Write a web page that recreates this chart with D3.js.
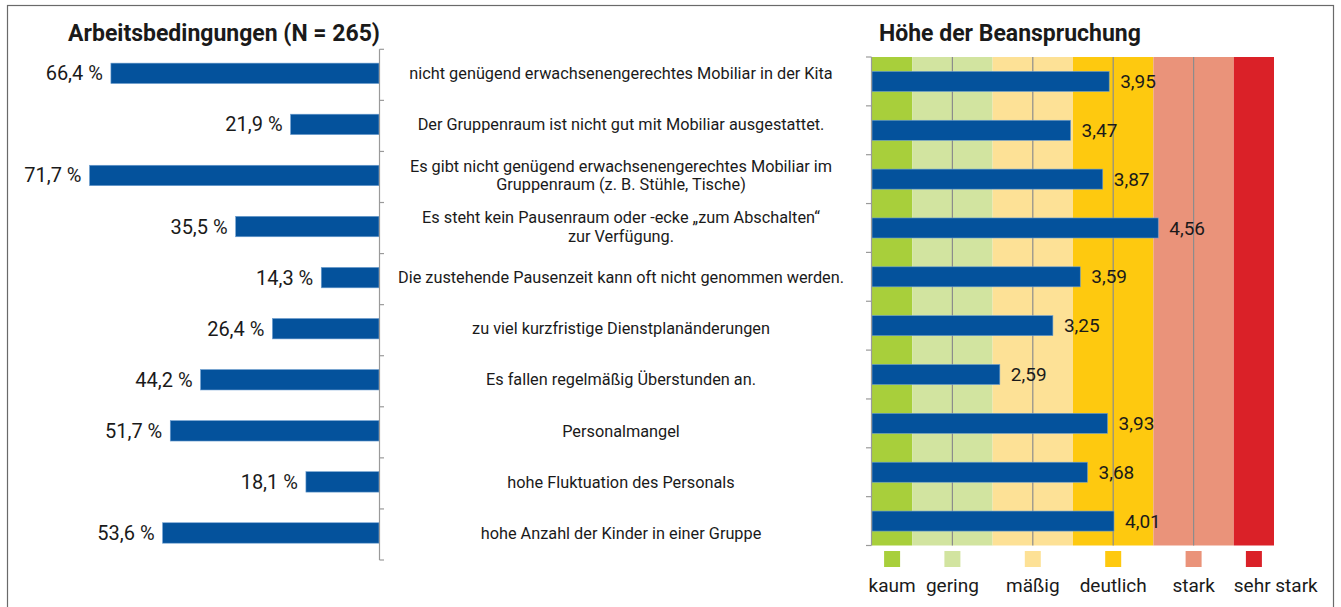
<!DOCTYPE html>
<html>
<head>
<meta charset="utf-8">
<script src="https://cdn.jsdelivr.net/npm/d3@7"></script>
<style>
  body { margin: 0; background: #fff; }
  svg text { font-family: Roboto, "Noto Sans", sans-serif; fill: #1a1a1a; }
</style>
</head>
<body>
<div class="plot"></div>
<script>
// DATA
let categories = [
  "nicht genügend erwachsenengerechtes Mobiliar in der Kita",
  "Der Gruppenraum ist nicht gut mit Mobiliar ausgestattet.",
  "Es gibt nicht genügend erwachsenengerechtes Mobiliar im\nGruppenraum (z. B. Stühle, Tische)",
  "Es steht kein Pausenraum oder -ecke „zum Abschalten“\nzur Verfügung.",
  "Die zustehende Pausenzeit kann oft nicht genommen werden.",
  "zu viel kurzfristige Dienstplanänderungen",
  "Es fallen regelmäßig Überstunden an.",
  "Personalmangel",
  "hohe Fluktuation des Personals",
  "hohe Anzahl der Kinder in einer Gruppe"
];
let percentages = [66.4, 21.9, 71.7, 35.5, 14.3, 26.4, 44.2, 51.7, 18.1, 53.6];
let strainMeans = [3.95, 3.47, 3.87, 4.56, 3.59, 3.25, 2.59, 3.93, 3.68, 4.01];

let levelNames = ["kaum", "gering", "mäßig", "deutlich", "stark", "sehr stark"];
let levelFrom = [1, 1.5, 2.5, 3.5, 4.5, 5.5];
let levelTo = [1.5, 2.5, 3.5, 4.5, 5.5, 6];
let levelColors = ["#a8cf3b", "#d2e4a0", "#fde196", "#fec90f", "#ea937a", "#da2128"];
let gridValues = [2, 3, 4, 5];

let leftTitle = "Arbeitsbedingungen (N = 265)";
let rightTitle = "Höhe der Beanspruchung";

//GENERAL VARIABLE INITIALIZATION
let w = 1341;
let h = 607;
let barBlue = "#04529c";
let axisGray = "#9a9a9a";

let locale = d3.formatLocale({decimal: ",", thousands: ".", grouping: [3], currency: ["", "€"]});
let fmtPct = locale.format(".1f");
let fmtMean = locale.format(".2f");

let svg = d3.select(".plot").append("svg")
    .attr("width", w)
    .attr("height", h);

// frame
svg.append("rect")
    .attr("x", 7.5)
    .attr("y", 5.5)
    .attr("width", 1326)
    .attr("height", 640)
    .attr("fill", "none")
    .attr("stroke", "#6a6a6a")
    .attr("stroke-width", 1.2);

//LEFT CHART
let leftX = d3.scaleLinear().domain([0, 80]).range([379, 56]);
let leftY = d3.scaleBand()
    .domain(categories)
    .range([49.3, 560])
    .paddingInner(0.6)
    .paddingOuter(0.3);

let leftG = svg.append("g");

leftG.selectAll("rect.barL")
    .data(percentages)
    .enter()
    .append("rect")
    .attr("class", "barL")
    .attr("x", d => leftX(d))
    .attr("y", (d, i) => leftY(categories[i]) - 1.5)
    .attr("width", d => leftX(0) - leftX(d))
    .attr("height", leftY.bandwidth())
    .attr("fill", barBlue)
    .attr("stroke", "#6f9fd0")
    .attr("stroke-width", 0.6);

leftG.selectAll("text.pct")
    .data(percentages)
    .enter()
    .append("text")
    .attr("class", "pct")
    .attr("x", d => leftX(d) - 8)
    .attr("y", (d, i) => leftY(categories[i]) + leftY.bandwidth() / 2 - 1.5)
    .attr("dy", "0.35em")
    .attr("text-anchor", "end")
    .attr("font-size", 20)
    .text(d => fmtPct(d) + " %");

// axis line with ticks at band boundaries
let leftStep = leftY.step();
let leftBounds = categories.map(c => leftY(c) - leftStep * 0.3).concat([560]);
leftG.append("line")
    .attr("x1", 379.5).attr("x2", 379.5)
    .attr("y1", leftBounds[0]).attr("y2", 560)
    .attr("stroke", axisGray).attr("stroke-width", 1.2);
leftG.selectAll("line.tickL")
    .data(leftBounds)
    .enter()
    .append("line")
    .attr("class", "tickL")
    .attr("x1", 379.5).attr("x2", 384)
    .attr("y1", d => d).attr("y2", d => d)
    .attr("stroke", axisGray).attr("stroke-width", 1.2);

svg.append("text")
    .attr("x", 224)
    .attr("y", 41)
    .attr("text-anchor", "middle")
    .attr("font-size", 23)
    .attr("font-weight", "bold")
    .text(leftTitle);

//MIDDLE LABELS
let labels = svg.append("g").selectAll("text.cat")
    .data(categories)
    .enter()
    .append("text")
    .attr("class", "cat")
    .attr("text-anchor", "middle")
    .attr("font-size", 16.3)
    .attr("transform", d => "translate(621," + (leftY(d) + leftY.bandwidth() / 2 - 1.5) + ")");

labels.each(function(d) {
  let lines = d.split("\n");
  let t = d3.select(this);
  lines.forEach(function(line, k) {
    t.append("tspan")
      .attr("x", 0)
      .attr("y", (k - (lines.length - 1) / 2) * 18.5)
      .attr("dy", "0.35em")
      .text(line);
  });
});

//RIGHT CHART
let rightX = d3.scaleLinear().domain([1, 6]).range([872, 1274]);
let rightY = d3.scaleBand()
    .domain(categories)
    .range([57, 545.5])
    .paddingInner(0.59)
    .paddingOuter(0.295);

let rightG = svg.append("g");

// background bands for strain levels
rightG.selectAll("rect.level")
    .data(levelNames)
    .enter()
    .append("rect")
    .attr("class", "level")
    .attr("x", (d, i) => rightX(levelFrom[i]))
    .attr("y", 57)
    .attr("width", (d, i) => rightX(levelTo[i]) - rightX(levelFrom[i]))
    .attr("height", 545.5 - 57)
    .attr("fill", (d, i) => levelColors[i]);

// vertical gridlines
rightG.selectAll("line.grid")
    .data(gridValues)
    .enter()
    .append("line")
    .attr("class", "grid")
    .attr("x1", d => rightX(d)).attr("x2", d => rightX(d))
    .attr("y1", 57).attr("y2", 545.5)
    .attr("stroke", "#8c8c8c").attr("stroke-width", 1.2);

rightG.selectAll("rect.barR")
    .data(strainMeans)
    .enter()
    .append("rect")
    .attr("class", "barR")
    .attr("x", rightX(1))
    .attr("y", (d, i) => rightY(categories[i]))
    .attr("width", d => rightX(d) - rightX(1))
    .attr("height", rightY.bandwidth())
    .attr("fill", barBlue)
    .attr("stroke", "#6f9fd0")
    .attr("stroke-width", 0.6);

rightG.selectAll("text.mean")
    .data(strainMeans)
    .enter()
    .append("text")
    .attr("class", "mean")
    .attr("x", d => rightX(d) + 11)
    .attr("y", (d, i) => rightY(categories[i]) + rightY.bandwidth() / 2)
    .attr("dy", "0.35em")
    .attr("font-size", 19)
    .text(d => fmtMean(d));

let rightStep = rightY.step();
let rightBounds = categories.map(c => rightY(c) - rightStep * 0.295).concat([545.5]);
rightG.append("line")
    .attr("x1", 871.5).attr("x2", 871.5)
    .attr("y1", 57).attr("y2", 545.5)
    .attr("stroke", axisGray).attr("stroke-width", 1.2);
rightG.selectAll("line.tickR")
    .data(rightBounds)
    .enter()
    .append("line")
    .attr("class", "tickR")
    .attr("x1", 866).attr("x2", 871.5)
    .attr("y1", d => d).attr("y2", d => d)
    .attr("stroke", axisGray).attr("stroke-width", 1.2);

svg.append("text")
    .attr("x", 879)
    .attr("y", 41)
    .attr("font-size", 23)
    .attr("font-weight", "bold")
    .text(rightTitle);

//LEGEND
let legend = svg.append("g");
legend.selectAll("rect")
    .data(levelNames)
    .enter()
    .append("rect")
    .attr("x", (d, i) => rightX((levelFrom[i] + levelTo[i]) / 2) - 8)
    .attr("y", 551)
    .attr("width", 16)
    .attr("height", 16)
    .attr("fill", (d, i) => levelColors[i]);

legend.selectAll("text")
    .data(levelNames)
    .enter()
    .append("text")
    .attr("x", (d, i) => i === levelNames.length - 1 ? rightX(levelFrom[i]) : rightX((levelFrom[i] + levelTo[i]) / 2))
    .attr("y", 592)
    .attr("text-anchor", (d, i) => i === levelNames.length - 1 ? "start" : "middle")
    .attr("font-size", 19)
    .text(d => d);
</script>
</body>
</html>
